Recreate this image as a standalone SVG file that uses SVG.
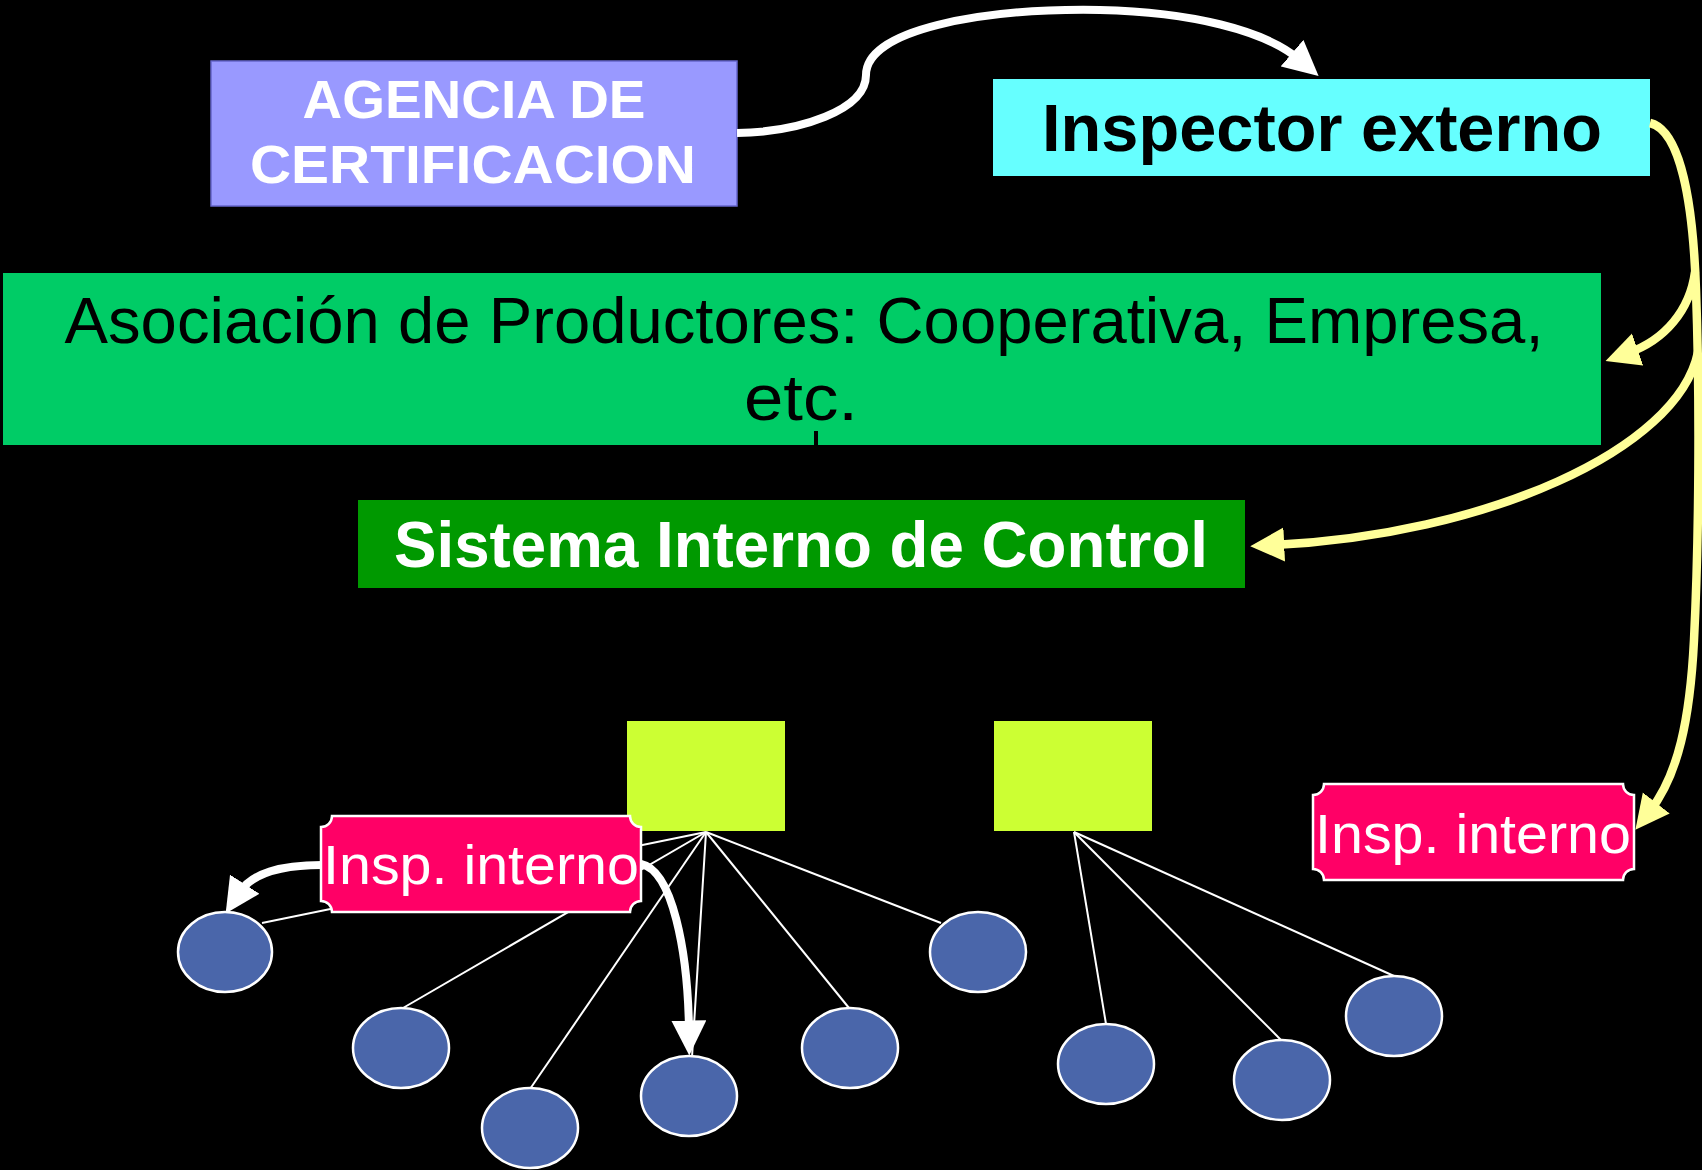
<svg xmlns="http://www.w3.org/2000/svg" width="1702" height="1170" viewBox="0 0 1702 1170">
<style>
.comic{font-family:"Liberation Sans",Arial,sans-serif}
.fan{stroke:#fff;stroke-width:2;fill:none}
.warrow{stroke:#fff;stroke-width:8;fill:none}
.yarrow{stroke:#FFFF99;stroke-width:8.5;fill:none}
.farm{fill:#4A66AA;stroke:#fff;stroke-width:2.5}
.group{fill:#CCFF33}
.insp{fill:#FF0066;stroke:#fff;stroke-width:2.5}
.insptext{font-family:"Liberation Sans",Arial,sans-serif;font-size:56px;fill:#fff;text-anchor:middle}
</style>
<defs>
<marker id="wh" viewBox="0 0 10 10" refX="3" refY="5" markerWidth="35" markerHeight="35" markerUnits="userSpaceOnUse" orient="auto">
<path d="M0,0 L10,5 L0,10 z" fill="#fff"/>
</marker>
<marker id="yh" viewBox="0 0 10 10" refX="3" refY="5" markerWidth="34" markerHeight="35" markerUnits="userSpaceOnUse" orient="auto">
<path d="M0,0 L10,5 L0,10 z" fill="#FFFF99"/>
</marker>
</defs>
<rect x="0" y="0" width="1702" height="1170" fill="#000"/>

<g id="agencia">
<rect x="211" y="61" width="526" height="145" fill="#9999FF" stroke="#6666CC" stroke-width="1.5"/>
<text class="comic" x="474" y="118" font-size="53" font-weight="bold" fill="#fff" text-anchor="middle" textLength="343" lengthAdjust="spacingAndGlyphs">AGENCIA DE</text>
<text class="comic" x="473" y="183" font-size="53" font-weight="bold" fill="#fff" text-anchor="middle" textLength="446" lengthAdjust="spacingAndGlyphs">CERTIFICACION</text>
</g>

<g id="inspector-externo">
<rect x="993" y="79" width="657" height="97" fill="#66FFFF"/>
<text class="comic" x="1322" y="151" font-size="66" font-weight="bold" fill="#000" text-anchor="middle" textLength="560" lengthAdjust="spacingAndGlyphs">Inspector externo</text>
</g>

<g id="asociacion">
<rect x="3" y="273" width="1598" height="172" fill="#00CC66"/>
<text class="comic" x="804" y="343" font-size="64" fill="#000" text-anchor="middle" textLength="1479" lengthAdjust="spacingAndGlyphs">Asociación de Productores: Cooperativa, Empresa,</text>
<text class="comic" x="801" y="420" font-size="64" fill="#000" text-anchor="middle" textLength="114" lengthAdjust="spacingAndGlyphs">etc.</text>
</g>

<g id="sistema">
<rect x="358" y="500" width="887" height="88" fill="#009900"/>
<text x="801" y="567" font-family="Liberation Sans, Arial, sans-serif" font-size="64" font-weight="bold" fill="#fff" text-anchor="middle" textLength="814" lengthAdjust="spacingAndGlyphs">Sistema Interno de Control</text>
</g>

<g id="connectors">
<line x1="816" y1="431" x2="816" y2="445" stroke="#000" stroke-width="4"/>
<line class="fan" x1="706" y1="832" x2="262" y2="923"/>
<line class="fan" x1="706" y1="832" x2="403" y2="1008"/>
<line class="fan" x1="706" y1="832" x2="530" y2="1089"/>
<line class="fan" x1="706" y1="832" x2="692" y2="1057"/>
<line class="fan" x1="706" y1="832" x2="849" y2="1008"/>
<line class="fan" x1="706" y1="832" x2="941" y2="923"/>
<line class="fan" x1="1074" y1="832" x2="1106" y2="1024"/>
<line class="fan" x1="1074" y1="832" x2="1281" y2="1040"/>
<line class="fan" x1="1074" y1="832" x2="1394" y2="976"/>
<path class="warrow" d="M737 133 C800 132,866 110,866 75 C866 30,980 8,1100 10 C1190 12,1265 30,1300 60" marker-end="url(#wh)"/>
<path class="yarrow" d="M1650 123 C1680 130,1693 200,1696 290 C1700 400,1699 540,1694 640 C1690 720,1678 775,1650 811" marker-end="url(#yh)"/>
<path class="yarrow" d="M1695 272 C1690 310,1665 340,1628 353" marker-end="url(#yh)"/>
<path class="yarrow" d="M1698 352 C1678 450,1485 535,1274 545" marker-end="url(#yh)"/>
<path class="warrow" d="M322 865 C280 865,252 873,239 893" marker-end="url(#wh)"/>
<path class="warrow" d="M641 864 C672 870,688 950,689 1031" marker-end="url(#wh)"/>
</g>

<g id="grupo-1"><rect class="group" x="627" y="721" width="158" height="110"/></g>
<g id="grupo-2"><rect class="group" x="994" y="721" width="158" height="110"/></g>

<g id="insp-interno-1">
<path class="insp" d="M332 816 L630 816 A11 11 0 0 0 641 827 L641 901 A11 11 0 0 0 630 912 L332 912 A11 11 0 0 0 321 901 L321 827 A11 11 0 0 0 332 816 Z"/>
<text class="insptext" x="481" y="884" textLength="316" lengthAdjust="spacingAndGlyphs">Insp. interno</text>
</g>
<g id="insp-interno-2">
<path class="insp" d="M1324 784 L1623 784 A11 11 0 0 0 1634 795 L1634 869 A11 11 0 0 0 1623 880 L1324 880 A11 11 0 0 0 1313 869 L1313 795 A11 11 0 0 0 1324 784 Z"/>
<text class="insptext" x="1473" y="853" textLength="316" lengthAdjust="spacingAndGlyphs">Insp. interno</text>
</g>

<g id="productor-1"><ellipse class="farm" cx="225" cy="952" rx="47" ry="40"/></g>
<g id="productor-2"><ellipse class="farm" cx="401" cy="1048" rx="48" ry="40"/></g>
<g id="productor-3"><ellipse class="farm" cx="530" cy="1128" rx="48" ry="40"/></g>
<g id="productor-4"><ellipse class="farm" cx="689" cy="1096" rx="48" ry="40"/></g>
<g id="productor-5"><ellipse class="farm" cx="850" cy="1048" rx="48" ry="40"/></g>
<g id="productor-6"><ellipse class="farm" cx="978" cy="952" rx="48" ry="40"/></g>
<g id="productor-7"><ellipse class="farm" cx="1106" cy="1064" rx="48" ry="40"/></g>
<g id="productor-8"><ellipse class="farm" cx="1282" cy="1080" rx="48" ry="40"/></g>
<g id="productor-9"><ellipse class="farm" cx="1394" cy="1016" rx="48" ry="40"/></g>
</svg>
